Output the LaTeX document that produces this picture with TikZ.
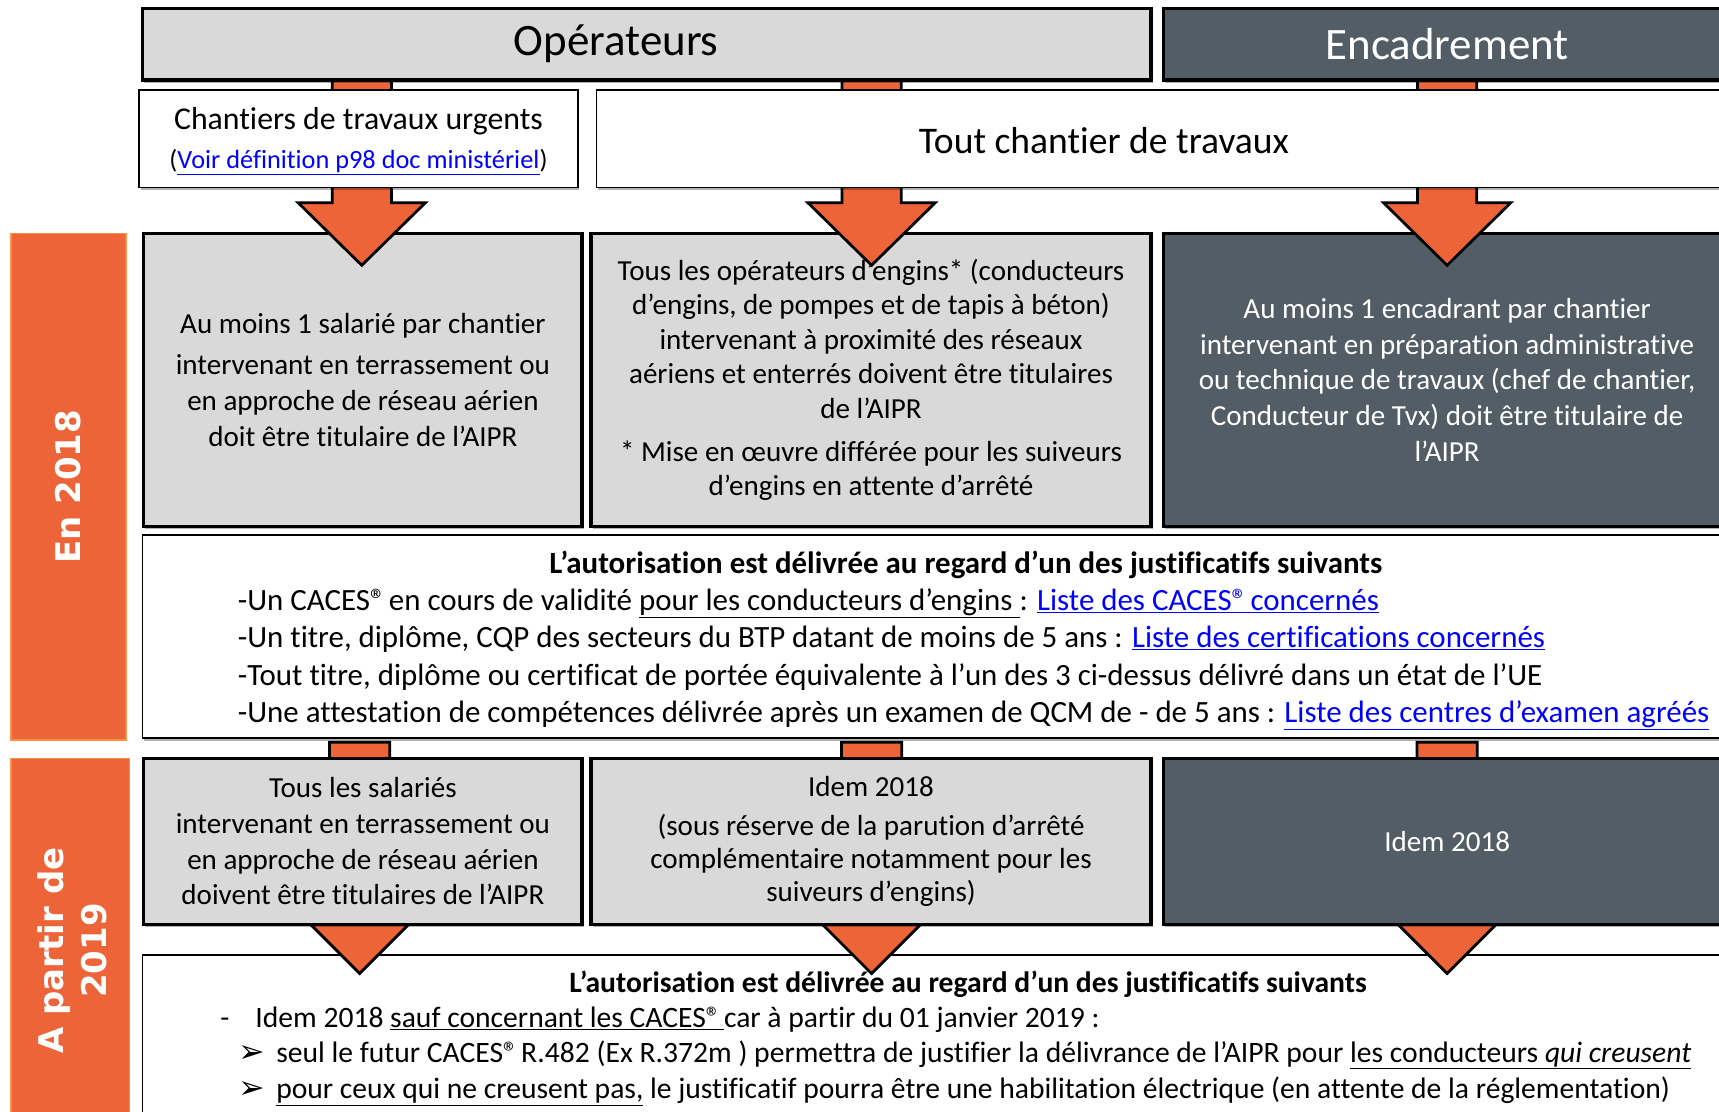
\documentclass[tikz,border=0pt]{standalone}
\usepackage{fontspec}
\setmainfont{Carlito}[Ligatures={NoCommon}]
\newfontfamily\dvs{DejaVu Sans}
\usetikzlibrary{shadows,calc}
\definecolor{orng}{RGB}{236,100,56}
\definecolor{orngedge}{RGB}{246,145,72}
\definecolor{lgray}{RGB}{217,217,217}
\definecolor{dslate}{RGB}{82,93,102}
\definecolor{linkblue}{RGB}{0,0,255}
\newcommand{\lnk}[1]{\textcolor{linkblue}{\underline{#1}}}
\newcommand{\regm}{®\kern-0.12em}
\newcommand{\bodyfont}{\fontsize{26.5}{32.5}\selectfont}
\newcommand{\jfont}{\fontsize{28.2}{34}\selectfont}
\newcommand{\kfont}{\fontsize{27}{33}\selectfont}
\newcommand{\hdrfont}{\fontsize{41}{48}\selectfont}
% block arrow: #1 top coordinate, #2 tip coordinate, #3 head length, #4 shaft half width, #5 head half width
\newcommand{\orarrow}[5]{%
  \draw[blockarrow] ($(#1)+(-#4,0)$) -- ($(#1)+(#4,0)$) -- ($(#2)+(#4,-#3)$) -- ($(#2)+(#5,-#3)$)
    -- (#2) -- ($(#2)+(-#5,-#3)$) -- ($(#2)+(-#4,-#3)$) -- cycle;}
\begin{document}
\begin{tikzpicture}[x=1pt,y=-1pt,
  every node/.style={inner sep=0pt,outer sep=0pt},
  boxshadow/.style={drop shadow={shadow xshift=1.5pt,shadow yshift=-2.5pt,opacity=0.3,fill=black}},
  lgbox/.style={draw=black,line width=3pt,fill=lgray,anchor=north west,align=center,boxshadow},
  dkbox/.style={draw=black,line width=3pt,fill=dslate,text=white,anchor=north west,align=center,boxshadow},
  whbox/.style={draw=black,line width=1.6pt,fill=white,anchor=north west,align=center,boxshadow},
  orbar/.style={fill=orng,draw=orngedge,line width=1.5pt,anchor=north west},
  barlab/.style={rotate=90,text=white,align=center,font=\dvs\bfseries\fontsize{31}{40}\selectfont},
  blockarrow/.style={fill=orng,draw=black,line width=2.5pt,line join=miter},
  jline/.style={anchor=base west,font=\jfont},
  kline/.style={anchor=base west,font=\kfont},
  arrowbullet/.style={anchor=base west,font=\dvs\fontsize{29}{30}\selectfont}]
\useasboundingbox (0,0) rectangle (1568,1014);
\clip (0,0) rectangle (1568,1014);
\fill[white] (0,0) rectangle (1568,1014);

% side bars
\node[orbar,minimum width=105pt,minimum height=462pt] (b18) at (10,213) {};
\node[barlab] (l18) at (b18.center) {En 2018};
\node[orbar,minimum width=108pt,minimum height=360pt] (b19) at (10,692) {};
\node[barlab] (l19) at (66,867) {A partir de\\2019};

% row 3 (En 2018)
\node[lgbox,font=\bodyfont,minimum width=400pt,minimum height=267pt] (a1) at (131,213)
 {Au moins 1 salarié par chantier\\[5pt]
  intervenant en terrassement ou\\ en approche de réseau aérien\\ doit être titulaire de l’AIPR};
\node[lgbox,font=\fontsize{26.5}{31.5}\selectfont,minimum width=511pt,minimum height=267pt] (a2) at (539,213)
 {Tous les opérateurs d’engins* (conducteurs\\ d’engins, de pompes et de tapis à béton)\\
  intervenant à proximité des réseaux\\ aériens et enterrés doivent être titulaires\\ de l’AIPR\\[7.5pt]
  * Mise en œuvre différée pour les suiveurs\\ d’engins en attente d’arrêté};
\node[dkbox,font=\bodyfont,minimum width=518pt,minimum height=267pt] (a3) at (1061,213)
 {Au moins 1 encadrant par chantier\\ intervenant en préparation administrative\\
  ou technique de travaux (chef de chantier,\\ Conducteur de Tvx) doit être titulaire de\\ l’AIPR};

% row 6 box (from 2019 justificatifs)
\node[whbox,minimum width=1470pt,minimum height=180pt] (j2) at (130,871) {};

% arrows
\coordinate (t1) at (330,50);  \coordinate (p1) at (330,242);
\coordinate (t2) at (795,50);  \coordinate (p2) at (795,242);
\coordinate (t3) at (1320,50); \coordinate (p3) at (1320,242);
\orarrow{t1}{p1}{57}{27}{58}
\orarrow{t2}{p2}{57}{27}{58}
\orarrow{t3}{p3}{57}{27}{58}
\coordinate (s1) at (328,677);  \coordinate (q1) at (328,888);
\coordinate (s2) at (795,677);  \coordinate (q2) at (795,888);
\coordinate (s3) at (1320,677); \coordinate (q3) at (1320,888);
\orarrow{s1}{q1}{56}{27.5}{56}
\orarrow{s2}{q2}{56}{27.5}{56}
\orarrow{s3}{q3}{56}{27.5}{56}

% headers
\node[lgbox,minimum width=920pt,minimum height=65pt] (hop) at (130,8) {};
\node[font=\hdrfont] (hopt) at (562,40) {Opérateurs};
\node[dkbox,font=\hdrfont,minimum width=518pt,minimum height=65pt] (hen) at (1061,8) {Encadrement};

% row 2
\node[whbox,minimum width=400pt,minimum height=89pt] (u1) at (127,82) {};
\node[anchor=base,font=\fontsize{29}{35}\selectfont] (u1a) at (327,118) {Chantiers de travaux urgents};
\node[anchor=base,font=\fontsize{24}{29}\selectfont] (u1b) at (327,154) {(\lnk{Voir définition p98 doc ministériel})};
\node[whbox,minimum width=1056pt,minimum height=89pt] (u2) at (544,82) {};
\node[font=\fontsize{34.3}{40}\selectfont] (u2t) at (1007,128) {Tout chantier de travaux};

% row 4 (justificatifs 2018)
\node[whbox,minimum width=1470pt,minimum height=185pt] (j1) at (130,488) {};
\node[anchor=base,font=\jfont\bfseries] (j1t) at (881,523) {L’autorisation est délivrée au regard d’un des justificatifs suivants};
\node[jline] (j1a) at (217,557) {-Un CACES\regm{} en cours de validité \underline{pour les conducteurs d’engins }: \lnk{Liste des CACES\regm{} concernés}};
\node[jline] (j1b) at (217,591) {-Un titre, diplôme, CQP des secteurs du BTP datant de moins de 5 ans : \lnk{Liste des certifications concernés}};
\node[jline] (j1c) at (217,625) {-Tout titre, diplôme ou certificat de portée équivalente à l’un des 3 ci-dessus délivré dans un état de l’UE};
\node[jline] (j1d) at (217,659) {-Une attestation de compétences délivrée après un examen de QCM de - de 5 ans : \lnk{Liste des centres d’examen agréés}};

% row 5 (A partir de 2019)
\node[lgbox,font=\bodyfont,minimum width=400pt,minimum height=151pt] (c1) at (131,692)
 {Tous les salariés\\ intervenant en terrassement ou\\ en approche de réseau aérien\\ doivent être titulaires de l’AIPR};
\node[lgbox,font=\fontsize{26.5}{30}\selectfont,minimum width=511pt,minimum height=151pt] (c2) at (539,692)
 {Idem 2018\\[5pt] (sous réserve de la parution d’arrêté\\ complémentaire notamment pour les\\ suiveurs d’engins)};
\node[dkbox,font=\bodyfont,minimum width=518pt,minimum height=151pt] (c3) at (1061,692) {Idem 2018};

% row 6 texts
\node[anchor=base,font=\kfont\bfseries] (j2t) at (883,905) {L’autorisation est délivrée au regard d’un des justificatifs suivants};
\node[kline] (j2d) at (201,937) {-};
\node[kline] (j2a) at (233,937) {Idem 2018 \underline{sauf concernant les CACES\regm{} }car à partir du 01 janvier 2019 :};
\node[arrowbullet] (k1) at (218,969) {➢};
\node[kline] (j2b) at (252,969) {seul le futur CACES\regm{} R.482 (Ex R.372m ) permettra de justifier la délivrance de l’AIPR pour \underline{les conducteurs \textit{qui creusent}}};
\node[arrowbullet] (k2) at (218,1002) {➢};
\node[kline] (j2c) at (252,1002) {\underline{pour ceux qui ne creusent pas,} le justificatif pourra être une habilitation électrique (en attente de la réglementation)};
\end{tikzpicture}
\end{document}
